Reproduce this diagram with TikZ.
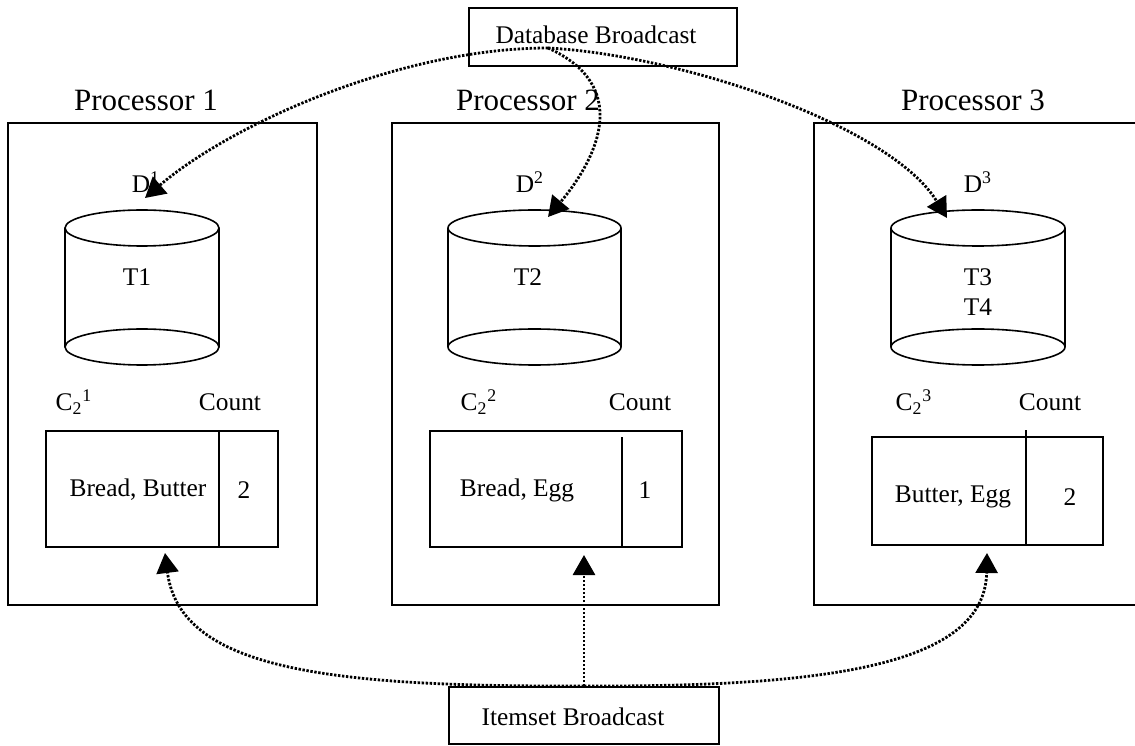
\documentclass[tikz,border=0pt]{standalone}
\usepackage{fontspec}
\setmainfont{Liberation Serif}
\usetikzlibrary{
    arrows.meta,
    positioning
}
\newcommand{\figtext}{\fontsize{12.7}{15}\selectfont}
\newcommand{\fighead}{\fontsize{15.5}{18}\selectfont}
\tikzset{
    lbl/.style={inner sep=0pt, font=\figtext},
    proclabel/.style={inner sep=0pt, font=\fighead},
    procbox/.style={draw, line width=1pt},
    dbline/.style={draw, line width=0.8pt},
    tablebox/.style={draw, line width=1pt},
    bcastbox/.style={draw, line width=1pt, inner sep=0pt, font=\figtext},
    flow/.style={line width=1.4pt, dash pattern=on 1.2pt off 0.8pt,
        -{Triangle[length=10pt,width=11pt]}},
}

\begin{document}
\begin{tikzpicture}[x=0.5pt, y=0.5pt]
    \useasboundingbox (0,0) rectangle (1135,745);

    % broadcast boxes
    \node[bcastbox, minimum width=134pt, minimum height=29pt] (dbcast) at (603,708) {};
    \node[lbl] (dbtext) at (596,710) {Database Broadcast};
    \node[bcastbox, minimum width=135pt, minimum height=28.5pt] (itemcast) at (584,29.5) {};
    \node[lbl] (itemtext) at (573,28) {Itemset Broadcast};
    \coordinate (dbsrc) at (548,697);

    % processor 1
    \node[proclabel] (proc1) at (146,645) {Processor 1};
    \draw[procbox] (8,140) rectangle (317,622);
    \draw[dbline] (65,517) -- (65,398) (219,517) -- (219,398);
    \draw[dbline] (142,517) ellipse (38.5pt and 9pt);
    \draw[dbline] (142,398) ellipse (38.5pt and 9pt);
    \node[lbl] (dlab1) at (146,563) {D\textsuperscript{1}};
    \node[lbl] (tlab1) at (137,468) {T1};
    \node[lbl] (clab1) at (74,343) {C\textsubscript{2}\textsuperscript{1}};
    \node[lbl] (cnt1) at (230,343) {Count};
    \draw[tablebox] (46,198) rectangle (278,314);
    \draw[tablebox] (219,198) -- (219,314);
    \node[lbl] (item1) at (138,255) {Bread, Butter};
    \node[lbl] (num1) at (244,255) {2};
    \coordinate (dtip1) at (145,547);
    \coordinate (ctip1) at (165,192);

    % processor 2
    \node[proclabel] (proc2) at (528,645) {Processor 2};
    \draw[procbox] (392,140) rectangle (719,622);
    \draw[dbline] (448,517) -- (448,398) (621,517) -- (621,398);
    \draw[dbline] (534.5,517) ellipse (43.25pt and 9pt);
    \draw[dbline] (534.5,398) ellipse (43.25pt and 9pt);
    \node[lbl] (dlab2) at (530,563) {D\textsuperscript{2}};
    \node[lbl] (tlab2) at (528,468) {T2};
    \node[lbl] (clab2) at (479,343) {C\textsubscript{2}\textsuperscript{2}};
    \node[lbl] (cnt2) at (640,343) {Count};
    \draw[tablebox] (430,198) rectangle (682,314);
    \draw[tablebox] (622,198) -- (622,308);
    \node[lbl] (item2) at (517,255) {Bread, Egg};
    \node[lbl] (num2) at (645,255) {1};
    \coordinate (dtip2) at (548,528);
    \coordinate (ctip2) at (584,190);

    % processor 3
    \node[proclabel] (proc3) at (973,645) {Processor 3};
    \draw[procbox] (814,140) rectangle (1142,622);
    \draw[dbline] (891,517) -- (891,398) (1065,517) -- (1065,398);
    \draw[dbline] (978,517) ellipse (43.5pt and 9pt);
    \draw[dbline] (978,398) ellipse (43.5pt and 9pt);
    \node[lbl] (dlab3) at (978,563) {D\textsuperscript{3}};
    \node[lbl, align=center] (tlab3) at (978,453) {T3\\T4};
    \node[lbl] (clab3) at (914,343) {C\textsubscript{2}\textsuperscript{3}};
    \node[lbl] (cnt3) at (1050,343) {Count};
    \draw[tablebox] (872,200) rectangle (1103,308);
    \draw[tablebox] (1026,200) -- (1026,315);
    \node[lbl] (item3) at (953,248) {Butter, Egg};
    \node[lbl] (num3) at (1070,248) {2};
    \coordinate (dtip3) at (947,527);
    \coordinate (ctip3) at (987,192);

    % database broadcast
    \draw[flow] (dbsrc) .. controls (400,697) and (230,620) .. (dtip1);
    \draw[flow] (dbsrc) .. controls (630,660) and (600,590) .. (dtip2);
    \draw[flow] (dbsrc) .. controls (680,690) and (890,620) .. (dtip3);

    % itemset broadcast
    \draw[flow] (itemcast.north) .. controls (330,58) and (180,75) .. (ctip1);
    \draw[flow] (itemcast.north) -- (ctip2);
    \draw[flow] (itemcast.north) .. controls (830,58) and (985,80) .. (ctip3);
\end{tikzpicture}
\end{document}
